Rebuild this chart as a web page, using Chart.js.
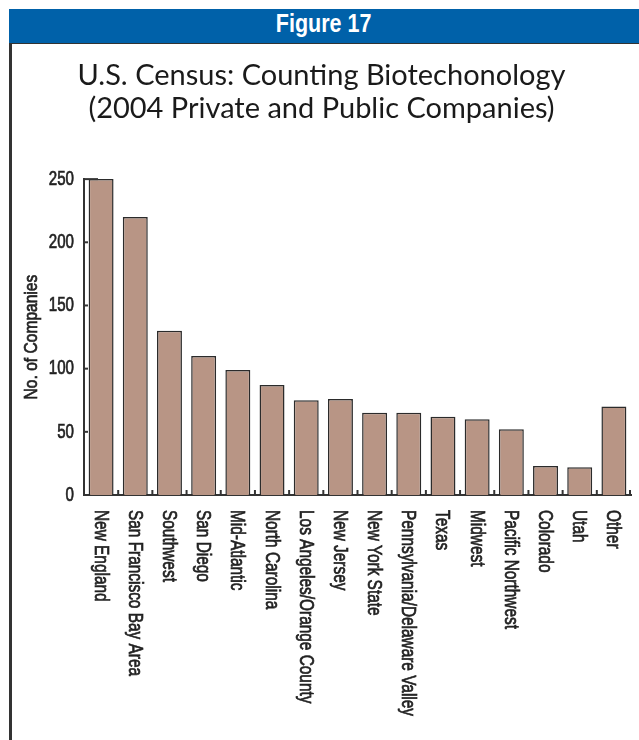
<!DOCTYPE html>
<html>
<head>
<meta charset="utf-8">
<script src="https://cdn.jsdelivr.net/npm/chart.js@4.4.1/dist/chart.umd.min.js"></script>
<style>
    body { margin: 0; background: #fff; width: 639px; height: 740px; overflow: hidden; position: relative; }
    #band {
        position: absolute; left: 9px; top: 9px; width: 630px; height: 34px;
        background: #0061A9; border-bottom: 1px solid #333;
        text-align: center; line-height: 34px;
    }
    #band span {
        display: inline-block; color: #fff; transform: scaleX(0.86);
        font: bold 25px "Liberation Sans", Arial, sans-serif;
    }
    #edge { position: absolute; left: 9px; top: 43px; width: 3px; height: 697px; background: #333; }
    #wrap { position: absolute; left: 12px; top: 44px; width: 627px; height: 696px; }
</style>
</head>
<body>
<div id="band"><span>Figure 17</span></div>
<div id="edge"></div>
<div id="wrap"><canvas id="censusChart"></canvas></div>
<script>
const regions = ['New England', 'San Francisco Bay Area', 'Southwest', 'San Diego', 'Mid-Atlantic',
    'North Carolina', 'Los Angeles/Orange County', 'New Jersey', 'New York State',
    'Pennsylvania/Delaware Valley', 'Texas', 'Midwest', 'Pacific Northwest', 'Colorado', 'Utah', 'Other'];
const companyCounts = [250, 220, 130, 110, 99, 87, 75, 76, 65, 65, 62, 60, 52, 23, 22, 70];
const yTicks = [0, 50, 100, 150, 200, 250];
const yTitle = 'No. of Companies';

const sans = '"Liberation Sans", Arial, sans-serif';
const ink = '#222';

// the print uses a condensed medium face: squeeze along the text and thicken a little
function squeezedText(ctx, text, x, y, angle, align, size, squeeze) {
    ctx.save();
    ctx.translate(x, y);
    ctx.rotate(angle);
    ctx.scale(squeeze, 1);
    ctx.font = size + 'px ' + sans;
    ctx.textAlign = align;
    ctx.textBaseline = 'middle';
    ctx.lineWidth = 0.7;
    ctx.strokeStyle = ink;
    ctx.fillText(text, 0, 0);
    ctx.strokeText(text, 0, 0);
    ctx.restore();
}

const axisDecor = {
    id: 'axisDecor',
    afterDraw(chart) {
        const { ctx, scales: { x, y } } = chart;
        const base = y.getPixelForValue(0);
        ctx.save();
        ctx.strokeStyle = '#333';
        ctx.lineWidth = 2;
        for (let i = 1; i <= regions.length; i++) {
            const bx = i < regions.length
                ? (x.getPixelForValue(i - 1) + x.getPixelForValue(i)) / 2
                : x.right - 1;
            ctx.beginPath();
            ctx.moveTo(bx, base);
            ctx.lineTo(bx, base - 5);
            ctx.stroke();
        }
        yTicks.slice(1).forEach((v, i, arr) => {
            const ty = y.getPixelForValue(v);
            const len = i === arr.length - 1 ? 14 : 4;
            ctx.beginPath();
            ctx.moveTo(x.left, ty);
            ctx.lineTo(x.left + len, ty);
            ctx.stroke();
        });

        ctx.fillStyle = ink;
        yTicks.forEach(v => {
            squeezedText(ctx, String(v), x.left - 10, y.getPixelForValue(v), 0, 'right', 21, 0.72);
        });
        squeezedText(ctx, yTitle, 20, (y.top + y.bottom) / 2, -Math.PI / 2, 'center', 19, 0.82);
        regions.forEach((name, i) => {
            squeezedText(ctx, name, x.getPixelForValue(i) - 1, base + 15, Math.PI / 2, 'left', 20, 0.77);
        });
        ctx.restore();
    }
};

const ctx = document.getElementById('censusChart').getContext('2d');
new Chart(ctx, {
    type: 'bar',
    data: {
        labels: regions,
        datasets: [{
            data: companyCounts,
            backgroundColor: '#B89585',
            borderColor: '#2b2b2b',
            borderWidth: 1.5,
            barPercentage: 0.73,
            categoryPercentage: 1
        }]
    },
    options: {
        responsive: true,
        maintainAspectRatio: false,
        animation: false,
        layout: { padding: { left: 0, right: 8, top: 0, bottom: 0 } },
        plugins: {
            legend: { display: false },
            tooltip: { enabled: false },
            title: {
                display: true,
                text: ['U.S. Census: Counting Biotechonology', '(2004 Private and Public Companies)'],
                color: '#1a1a1a',
                font: { family: 'Lato, "Open Sans", sans-serif', size: 29, weight: 'normal', lineHeight: 1.14 },
                padding: { top: 15, bottom: 54 }
            }
        },
        scales: {
            x: {
                grid: { display: false },
                border: { display: true, color: '#333', width: 2 },
                ticks: { display: false },
                afterFit: (scale) => { scale.height = 245; }
            },
            y: {
                min: 0,
                max: 250,
                afterBuildTicks: (scale) => { scale.ticks = yTicks.map(v => ({ value: v })); },
                grid: { display: false, drawTicks: false },
                border: { display: true, color: '#333', width: 2 },
                ticks: { display: false },
                afterFit: (scale) => { scale.width = 72; }
            }
        }
    },
    plugins: [axisDecor]
});
</script>
</body>
</html>
